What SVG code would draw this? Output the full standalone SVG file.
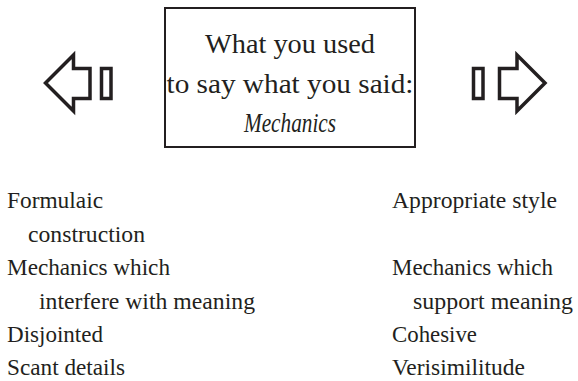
<svg xmlns="http://www.w3.org/2000/svg" width="578" height="381" viewBox="0 0 578 381">
<style>
.t{font-family:"Liberation Serif","Times New Roman",serif;fill:#231f20}
.b{font-size:28px}
.s{font-size:23.5px}
.sh{fill:none;stroke:#231f20;stroke-width:3.5;stroke-linejoin:miter;stroke-miterlimit:10}
</style>
<rect width="578" height="381" fill="#fff"/>
<g id="box">
<rect x="165" y="8" width="250" height="139" fill="none" stroke="#231f20" stroke-width="2"/>
<text class="t b" x="290" y="53" text-anchor="middle" textLength="170" lengthAdjust="spacingAndGlyphs">What you used</text>
<text class="t b" x="290" y="92.5" text-anchor="middle" textLength="247" lengthAdjust="spacingAndGlyphs">to say what you said:</text>
<text class="t b" x="290" y="131.5" text-anchor="middle" font-style="italic" textLength="92" lengthAdjust="spacingAndGlyphs">Mechanics</text>
</g>
<g id="left-arrow">
<polygon class="sh" points="45.5,83 73.5,55 73.5,68.5 90,68.5 90,98.5 73.5,98.5 73.5,111"/>
<rect class="sh" x="101.5" y="68.5" width="9.5" height="30"/>
</g>
<g id="right-arrow">
<rect class="sh" x="473.5" y="68.5" width="9.5" height="30"/>
<polygon class="sh" points="545,83 517,55 517,68.5 499.5,68.5 499.5,98.5 517,98.5 517,111"/>
</g>
<g id="left-list">
<text class="t s" x="7" y="208" textLength="96" lengthAdjust="spacingAndGlyphs">Formulaic</text>
<text class="t s" x="28" y="241.5" textLength="117" lengthAdjust="spacingAndGlyphs">construction</text>
<text class="t s" x="7" y="275" textLength="163" lengthAdjust="spacingAndGlyphs">Mechanics which</text>
<text class="t s" x="39" y="308.5" textLength="216" lengthAdjust="spacingAndGlyphs">interfere with meaning</text>
<text class="t s" x="7" y="342" textLength="96" lengthAdjust="spacingAndGlyphs">Disjointed</text>
<text class="t s" x="7" y="375" textLength="118" lengthAdjust="spacingAndGlyphs">Scant details</text>
</g>
<g id="right-list">
<text class="t s" x="392" y="208" textLength="165" lengthAdjust="spacingAndGlyphs">Appropriate style</text>
<text class="t s" x="392" y="275" textLength="161" lengthAdjust="spacingAndGlyphs">Mechanics which</text>
<text class="t s" x="413" y="308.5" textLength="160" lengthAdjust="spacingAndGlyphs">support meaning</text>
<text class="t s" x="392" y="342" textLength="85" lengthAdjust="spacingAndGlyphs">Cohesive</text>
<text class="t s" x="392" y="375" textLength="133" lengthAdjust="spacingAndGlyphs">Verisimilitude</text>
</g>
</svg>
